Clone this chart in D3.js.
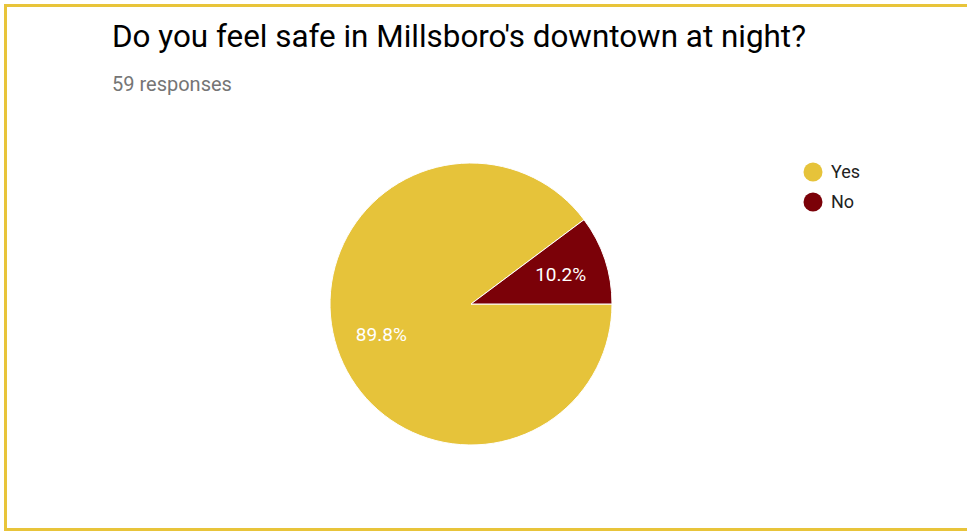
<!DOCTYPE html>
<html>
<head>
<meta charset="utf-8">
<script src="https://cdn.jsdelivr.net/npm/d3@7"></script>
<style>
  body { margin: 0; background: #fff; }
  svg { display: block; font-family: Roboto, Arial, sans-serif; }
</style>
</head>
<body>
<svg id="chart"></svg>
<script>
const width = 967;
const height = 531;

// answers and their shares (percent)
const answers = ['Yes', 'No'];
const shares = [89.8, 10.2];
const colors = ['#e6c33a', '#7b0108'];

const title = "Do you feel safe in Millsboro's downtown at night?";
const subtitle = '59 responses';

const svg = d3.select('#chart')
    .attr('width', width)
    .attr('height', height);

// yellow frame (no right edge, it's cropped off)
svg.append('path')
    .attr('d', `M${width},5.5 H5.5 V${height - 1.5} H${width}`)
    .attr('fill', 'none')
    .attr('stroke', '#e8c43a')
    .attr('stroke-width', 3);

svg.append('text')
    .attr('x', 112)
    .attr('y', 47)
    .attr('font-size', 30.5)
    .attr('textLength', 694)
    .attr('lengthAdjust', 'spacingAndGlyphs')
    .attr('fill', '#000')
    .text(title);

svg.append('text')
    .attr('x', 112)
    .attr('y', 91)
    .attr('font-size', 20)
    .attr('fill', '#757575')
    .text(subtitle);

const data = answers.map((a, i) => ({ name: a, value: shares[i], color: colors[i] }));

const cx = 471, cy = 304, r = 141;

// google style: first slice starts at 3 o'clock going clockwise
const pie = d3.pie()
    .sort(null)
    .value(d => d.value)
    .startAngle(Math.PI / 2)
    .endAngle(Math.PI / 2 + 2 * Math.PI);

const arc = d3.arc().innerRadius(0).outerRadius(r);

const g = svg.append('g').attr('transform', `translate(${cx},${cy})`);

const arcs = pie(data);

g.selectAll('path')
    .data(arcs)
    .enter()
    .append('path')
    .attr('d', arc)
    .attr('fill', d => d.data.color)
    .attr('stroke', '#fff')
    .attr('stroke-width', 1);

// labels sit a bit past the middle of the radius
const labelArc = d3.arc().innerRadius(r * 0.67).outerRadius(r * 0.67);

g.selectAll('text.pct')
    .data(arcs)
    .enter()
    .append('text')
    .attr('class', 'pct')
    .attr('transform', d => `translate(${labelArc.centroid(d)})`)
    .attr('text-anchor', 'middle')
    .attr('dy', '0.36em')
    .attr('font-size', 19)
    .attr('fill', '#fff')
    .text(d => d.data.value.toFixed(1) + '%');

// legend
const legend = svg.append('g').attr('transform', 'translate(813,172)');

const item = legend.selectAll('g')
    .data(data)
    .enter()
    .append('g')
    .attr('transform', (d, i) => `translate(0,${i * 30})`);

item.append('circle')
    .attr('r', 9.5)
    .attr('fill', d => d.color);

item.append('text')
    .attr('x', 18)
    .attr('dy', '0.36em')
    .attr('font-size', 18)
    .attr('fill', '#222')
    .text(d => d.name);
</script>
</body>
</html>
